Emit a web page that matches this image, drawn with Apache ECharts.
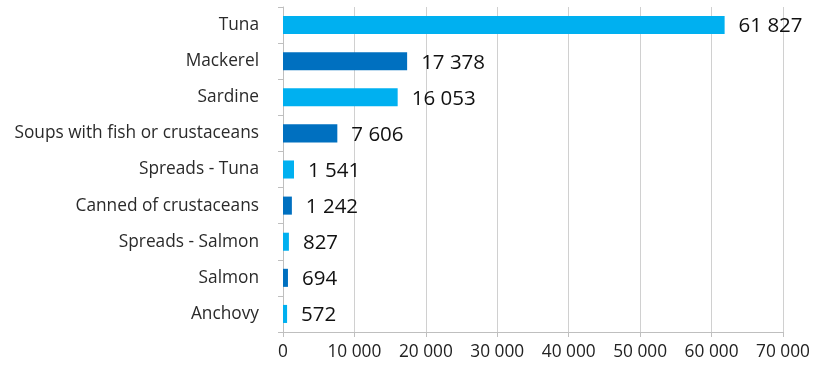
<!DOCTYPE html>
<html><head><meta charset="utf-8">
<script src="https://cdn.jsdelivr.net/npm/echarts@6/dist/echarts.min.js"></script>
<style>html,body{margin:0;padding:0;background:#fff}#c{width:816px;height:374px}</style>
</head><body><div id="c"></div>
<script>
const categories = ["Tuna","Mackerel","Sardine","Soups with fish or crustaceans","Spreads - Tuna","Canned of crustaceans","Spreads - Salmon","Salmon","Anchovy"];
const values = [61827,17378,16053,7606,1541,1242,827,694,572];
const barColors = ["#00B0F0","#0070C0"];
const axisTicks = [0,10000,20000,30000,40000,50000,60000,70000];

function fmt(v){ return String(Math.round(v)).replace(/\B(?=(\d{3})+(?!\d))/g,' '); }
const chart = echarts.init(document.getElementById('c'), null, {renderer:'canvas'});
chart.setOption({
  animation:false,
  backgroundColor:'#fff',
  textStyle:{fontFamily:'Open Sans'},
  grid:{left:283,right:33,top:7,bottom:42,containLabel:false},
  xAxis:{type:'value',min:axisTicks[0],max:axisTicks[axisTicks.length-1],interval:10000,
    axisLine:{show:true,lineStyle:{color:'#BFBFBF'}},
    axisTick:{show:true,length:5,lineStyle:{color:'#BFBFBF'}},
    splitLine:{show:true,lineStyle:{color:'#D0D0D0'}},
    axisLabel:{formatter:fmt,color:'#222',fontSize:17.3,margin:12,fontFamily:'Open Sans'}},
  yAxis:{type:'category',data:categories,inverse:true,
    axisLine:{show:true,lineStyle:{color:'#BFBFBF'}},
    axisTick:{show:true,length:5,lineStyle:{color:'#BFBFBF'}},
    axisLabel:{color:'#2a2a2a',fontSize:17.3,margin:24,fontFamily:'Open Sans'}},
  series:[{type:'bar',barWidth:'50%',
    data:values.map((v,i)=>({value:v,itemStyle:{color:barColors[i%2]}})),
    label:{show:true,position:'right',distance:14,offset:[0,1.5],formatter:p=>fmt(p.value),color:'#111',fontSize:20.5,fontFamily:'Open Sans'}}]
});
</script></body></html>
